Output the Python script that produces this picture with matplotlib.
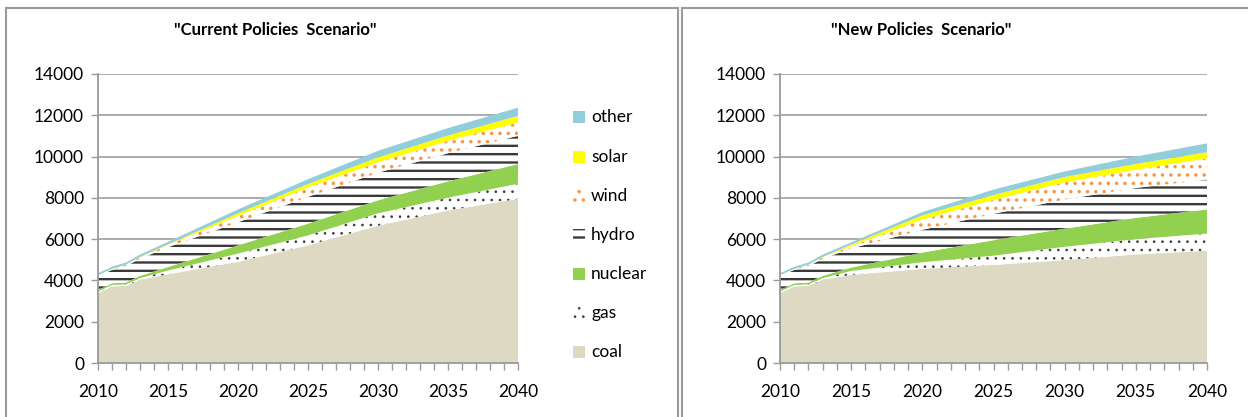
import matplotlib
matplotlib.use("Agg")
import matplotlib.pyplot as plt
from matplotlib.patches import Rectangle

plt.rcParams['font.family'] = ['Lato', 'DejaVu Sans']

years = [2010, 2011, 2012, 2013, 2015, 2020, 2025, 2030, 2035, 2040]
series_names = ["coal", "gas", "nuclear", "hydro", "wind", "solar", "other"]

# Current Policies Scenario (TWh)
cps_coal = [3390, 3710, 3740, 4030, 4300, 4900, 5700, 6650, 7390, 7950]
cps_gas = [60, 70, 70, 80, 180, 400, 480, 600, 620, 730]
cps_nuclear = [80, 80, 90, 110, 170, 400, 570, 630, 790, 960]
cps_hydro = [690, 650, 800, 830, 960, 1120, 1300, 1340, 1360, 1370]
cps_wind = [30, 40, 60, 70, 110, 300, 450, 500, 600, 640]
cps_solar = [10, 10, 10, 20, 30, 130, 170, 240, 260, 320]
cps_other = [90, 100, 100, 110, 120, 190, 230, 320, 360, 400]

# New Policies Scenario (TWh)
nps_coal = [3390, 3710, 3740, 4030, 4270, 4560, 4750, 4990, 5260, 5440]
nps_gas = [60, 70, 70, 80, 190, 320, 450, 640, 740, 830]
nps_nuclear = [80, 80, 90, 110, 160, 470, 750, 880, 1030, 1170]
nps_hydro = [690, 650, 800, 830, 930, 1100, 1280, 1410, 1450, 1450]
nps_wind = [30, 40, 60, 70, 110, 500, 670, 830, 880, 1020]
nps_solar = [10, 10, 10, 20, 80, 200, 240, 260, 280, 300]
nps_other = [90, 100, 100, 110, 100, 160, 260, 270, 360, 430]

titles = ['"Current Policies  Scenario"', '"New Policies  Scenario"']
xtick_labels = ["2010", "2015", "2020", "2025", "2030", "2035", "2040"]
ytick_values = [0, 2000, 4000, 6000, 8000, 10000, 12000, 14000]

# style per series: (facecolor, hatch, hatch colour, hatch linewidth)
styles = {
    "coal": ("#DDD9C3", None, "none", 0),
    "gas": ("white", "..", "#404040", 0.7),
    "nuclear": ("#92D050", None, "none", 0),
    "hydro": ("white", "--", "#3a3a3a", 1.7),
    "wind": ("white", "..", "#F79646", 1.3),
    "solar": ("#FFFF00", None, "none", 0),
    "other": ("#92CDDC", None, "none", 0),
}


def style_artist(artist, name):
    fc, hatch, ec, hlw = styles[name]
    artist.set_facecolor(fc)
    if hatch:
        artist.set_hatch(hatch)
        artist.set_edgecolor(ec)
        artist.set_linewidth(0)
        if hasattr(artist, "set_hatch_linewidth"):
            artist.set_hatch_linewidth(hlw)
    else:
        artist.set_edgecolor("none")


W, H = 1248, 417
fig = plt.figure(figsize=(W / 100, H / 100), dpi=100)

# panel frames
fig.patches.append(Rectangle((6 / W, -0.1), (678 - 6) / W, (H - 8) / H + 0.1,
                             transform=fig.transFigure, fill=False,
                             edgecolor="#9a9a9a", linewidth=1.5))
fig.patches.append(Rectangle((682 / W, -0.1), (W + 10 - 682) / W, (H - 8) / H + 0.1,
                             transform=fig.transFigure, fill=False,
                             edgecolor="#9a9a9a", linewidth=1.5))

axes_px = [(98, 518), (780, 1207)]
y0_px, y1_px = 363, 74
title_x = [275, 921]

datasets = [
    [cps_coal, cps_gas, cps_nuclear, cps_hydro, cps_wind, cps_solar, cps_other],
    [nps_coal, nps_gas, nps_nuclear, nps_hydro, nps_wind, nps_solar, nps_other],
]

for i, data in enumerate(datasets):
    xl, xr = axes_px[i]
    ax = fig.add_axes([xl / W, (H - y0_px) / H, (xr - xl) / W, (y0_px - y1_px) / H])
    colls = ax.stackplot(years, *data, labels=series_names, linewidth=0)
    for coll, name in zip(colls, series_names):
        style_artist(coll, name)
    ax.set_xlim(2010, 2040)
    ax.set_ylim(0, 14000)
    ax.set_yticks(ytick_values)
    ax.set_yticklabels([str(v) for v in ytick_values], fontsize=12.5)
    ax.set_xticks([int(s) for s in xtick_labels])
    ax.set_xticklabels(xtick_labels, fontsize=12.5)
    ax.set_xticks(range(2010, 2041), minor=True)
    ax.tick_params(axis="x", which="both", length=5, color="#9a9a9a", width=1, direction="out", pad=10)
    ax.tick_params(axis="y", length=5, color="#9a9a9a", width=1, pad=5)
    ax.grid(axis="y", color="#a6a6a6", linewidth=1.3)
    ax.set_axisbelow(True)
    for s in ["top", "right"]:
        ax.spines[s].set_visible(False)
    for s in ["left", "bottom"]:
        ax.spines[s].set_color("#9a9a9a")
        ax.spines[s].set_linewidth(1.3)
    ax.spines["bottom"].set_zorder(5)
    fig.text(title_x[i] / W, (H - 30) / H, titles[i], ha="center", va="center",
             fontsize=12, fontweight="bold")

# legend (left panel), order top -> bottom
legend_y = [117, 157, 196, 235, 274, 313, 352]
for name, yc in zip(series_names[::-1], legend_y):
    r = Rectangle((573 / W, (H - yc - 6) / H), 12 / W, 12 / H, transform=fig.transFigure)
    style_artist(r, name)
    fig.patches.append(r)
    fig.text(591 / W, (H - yc) / H, name, ha="left", va="center", fontsize=12.5)

fig.savefig("out.png", dpi=100)
